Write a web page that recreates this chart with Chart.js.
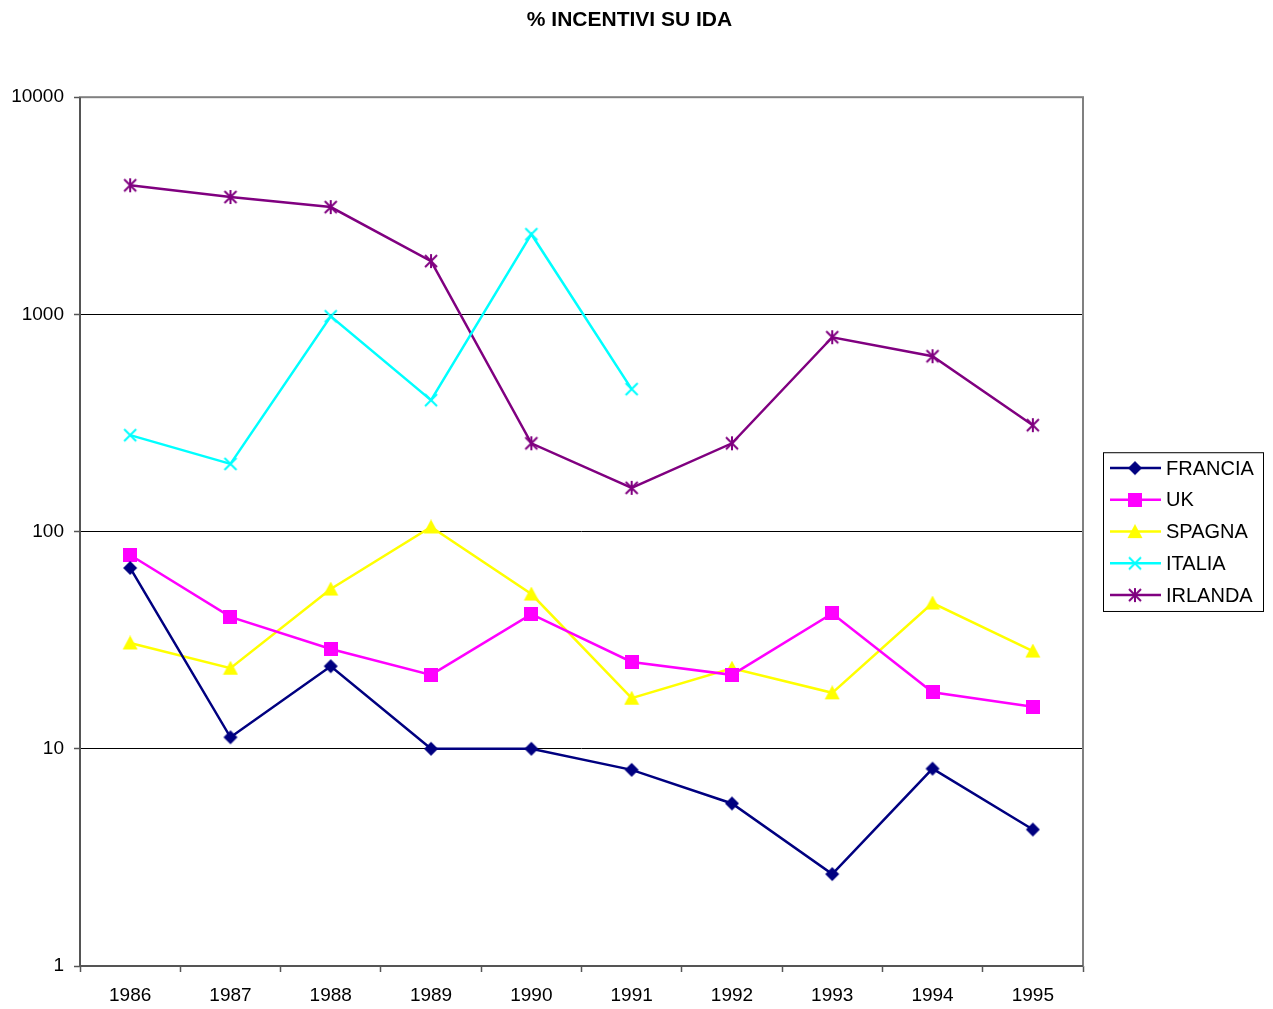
<!DOCTYPE html>
<html>
<head>
<meta charset="utf-8">
<script src="https://cdn.jsdelivr.net/npm/chart.js@4/dist/chart.umd.min.js"></script>
<style>
  html, body { margin: 0; padding: 0; background: #fff; }
  #wrap { width: 1273px; height: 1009px; position: relative; }
</style>
</head>
<body>
<div id="wrap"><canvas id="lineChart"></canvas></div>
<script>
var years = ['1986', '1987', '1988', '1989', '1990', '1991', '1992', '1993', '1994', '1995']
var yTicks = [1, 10, 100, 1000, 10000]

var francia = [68, 11.3, 24, 10, 10, 8, 5.6, 2.65, 8.1, 4.25]
var uk      = [78, 40.5, 28.8, 21.9, 41.7, 25.1, 21.9, 42, 18.2, 15.6]
var spagna  = [30.7, 23.5, 54.4, 105, 51.6, 17.1, 23.5, 18.1, 46.9, 28.2]
var italia  = [278, 205, 980, 403, 2340, 453, null, null, null, null]
var irlanda = [3930, 3470, 3120, 1760, 255, 159, 255, 785, 642, 309]

var FONT = '"Liberation Sans", Arial, sans-serif'

//-------------
//- MARKERS -
//-------------
function makeMarker(w, h, draw) {
  var c = document.createElement('canvas')
  c.width = w
  c.height = h
  var ctx = c.getContext('2d')
  draw(ctx)
  return c
}

var diamond = makeMarker(16, 16, function (ctx) {
  ctx.fillStyle = '#000080'
  ctx.beginPath()
  ctx.moveTo(8, 1); ctx.lineTo(15, 8); ctx.lineTo(8, 15); ctx.lineTo(1, 8)
  ctx.closePath()
  ctx.fill()
})
var square = makeMarker(14, 14, function (ctx) {
  ctx.fillStyle = '#ff00ff'
  ctx.fillRect(0, 0, 14, 14)
})
var triangle = makeMarker(16, 15, function (ctx) {
  ctx.fillStyle = '#ffff00'
  ctx.beginPath()
  ctx.moveTo(8, 0); ctx.lineTo(15.5, 14); ctx.lineTo(0.5, 14)
  ctx.closePath()
  ctx.fill()
})
var cross = makeMarker(16, 16, function (ctx) {
  ctx.strokeStyle = '#00ffff'
  ctx.lineWidth = 2
  ctx.beginPath()
  ctx.moveTo(2, 2); ctx.lineTo(14, 14)
  ctx.moveTo(14, 2); ctx.lineTo(2, 14)
  ctx.stroke()
})
var asterisk = makeMarker(16, 16, function (ctx) {
  ctx.strokeStyle = '#800080'
  ctx.lineWidth = 2
  ctx.beginPath()
  ctx.moveTo(2, 2); ctx.lineTo(14, 14)
  ctx.moveTo(14, 2); ctx.lineTo(2, 14)
  ctx.moveTo(8, 1); ctx.lineTo(8, 15)
  ctx.stroke()
})

function series(label, color, data, marker) {
  return {
    label: label,
    data: data,
    borderColor: color,
    backgroundColor: color,
    borderWidth: 2.5,
    tension: 0,
    pointStyle: marker,
    pointRadius: 7,
    pointHoverRadius: 7,
    spanGaps: false,
    yAxisID: 'y'
  }
}

// plot frame
var framePlugin = {
  id: 'frame',
  afterDraw: function (chart) {
    var a = chart.chartArea
    var ctx = chart.ctx
    ctx.save()
    ctx.strokeStyle = '#808080'
    ctx.lineWidth = 2
    ctx.strokeRect(a.left, a.top, a.right - a.left, a.bottom - a.top)
    ctx.strokeStyle = '#555555'
    ctx.beginPath()
    ctx.moveTo(a.left, a.top)
    ctx.lineTo(a.left, a.bottom)
    ctx.lineTo(a.right, a.bottom)
    ctx.stroke()
    ctx.restore()
  }
}

// legend with line + marker samples
var legendPlugin = {
  id: 'boxLegend',
  afterDraw: function (chart) {
    var a = chart.chartArea
    var ctx = chart.ctx
    var sets = chart.data.datasets
    var left = a.right + 20
    var width = 160
    var rowH = 31.75
    var height = rowH * sets.length
    var top = (a.top + a.bottom) / 2 - height / 2
    ctx.save()
    ctx.fillStyle = '#ffffff'
    ctx.fillRect(left, top, width, height)
    ctx.strokeStyle = '#000000'
    ctx.lineWidth = 1
    ctx.strokeRect(left + 0.5, top + 0.5, width, height)
    ctx.font = '20px ' + FONT
    ctx.textBaseline = 'middle'
    ctx.textAlign = 'left'
    sets.forEach(function (ds, i) {
      var y = top + rowH * (i + 0.5)
      ctx.strokeStyle = ds.borderColor
      ctx.lineWidth = 2.5
      ctx.beginPath()
      ctx.moveTo(left + 7, y)
      ctx.lineTo(left + 58, y)
      ctx.stroke()
      var m = ds.pointStyle
      ctx.drawImage(m, left + 32 - m.width / 2, y - m.height / 2)
      ctx.fillStyle = '#000000'
      ctx.fillText(ds.label, left + 63, y + 1)
    })
    ctx.restore()
  }
}

var lineChart = new Chart(document.getElementById('lineChart').getContext('2d'),
{
  type: 'line',
  data: {
    labels: years,
    datasets: [
      series('FRANCIA', '#000080', francia, diamond),
      series('UK', '#ff00ff', uk, square),
      series('SPAGNA', '#ffff00', spagna, triangle),
      series('ITALIA', '#00ffff', italia, cross),
      series('IRLANDA', '#800080', irlanda, asterisk)
    ]
  },
  options: {
    responsive: true,
    maintainAspectRatio: false,
    animation: false,
    layout: { padding: { left: 0, right: 14, top: 0, bottom: 0 } },
    plugins: {
      legend: { display: false },
      tooltip: { enabled: false },
      title: {
        display: true,
        text: '% INCENTIVI SU IDA',
        color: '#000000',
        font: { family: FONT, size: 21, weight: 'bold' },
        padding: { top: 8, bottom: 64 }
      }
    },
    scales: {
      x: {
        type: 'category',
        offset: true,
        afterFit: function (scale) { scale.height = 43 },
        grid: {
          offset: true,
          drawOnChartArea: false,
          drawTicks: true,
          tickLength: 6,
          tickColor: '#555555',
          tickWidth: 1.5
        },
        border: { display: false },
        ticks: {
          color: '#000000',
          padding: 12,
          maxRotation: 0,
          font: { family: FONT, size: 19 }
        }
      },
      y: {
        type: 'logarithmic',
        position: 'left',
        min: 1,
        max: 10000,
        afterFit: function (scale) { scale.width = 80 },
        afterBuildTicks: function (scale) {
          scale.ticks = yTicks.map(function (v) { return { value: v } })
        },
        grid: {
          color: function (context) {
            var v = context.tick && context.tick.value
            return (v === 1 || v === 10000) ? 'rgba(0,0,0,0)' : '#000000'
          },
          lineWidth: 1,
          tickLength: 6,
          tickColor: '#555555',
          tickWidth: 1.5
        },
        border: { display: false },
        ticks: {
          color: '#000000',
          padding: 10,
          font: { family: FONT, size: 19 },
          callback: function (value) { return String(value) }
        }
      },
      // empty right-hand axis that only reserves room for the legend
      legendSpace: {
        type: 'linear',
        position: 'right',
        display: true,
        afterFit: function (scale) { scale.width = 176 },
        grid: { display: false, drawOnChartArea: false, drawTicks: false },
        border: { display: false },
        ticks: { display: false }
      }
    }
  },
  plugins: [framePlugin, legendPlugin]
})
</script>
</body>
</html>
